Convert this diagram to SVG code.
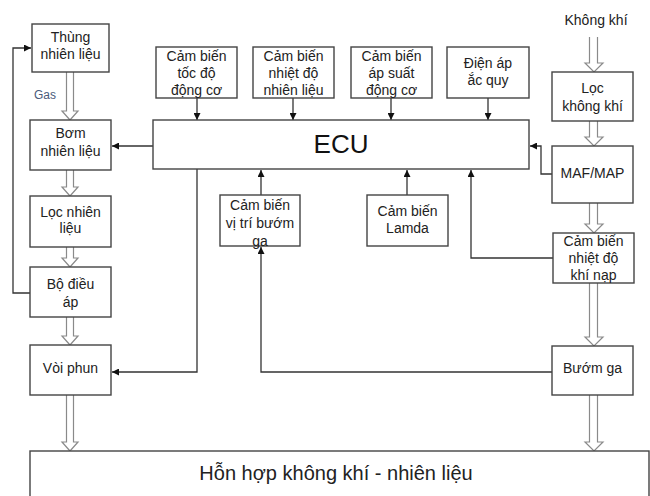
<svg xmlns="http://www.w3.org/2000/svg" width="650" height="496" viewBox="0 0 650 496">
<defs>
<marker id="ah" viewBox="0 0 8 8" refX="8" refY="4" markerWidth="7" markerHeight="7" orient="auto" markerUnits="userSpaceOnUse">
<path d="M0,0 L8,4 L0,8 Z" fill="#111"/>
</marker>
<style>
.box{fill:#fff;stroke:#444;stroke-width:1.4}
.t{font-family:"Liberation Sans",Arial,sans-serif;font-size:14px;fill:#222;text-anchor:middle}
.ln{fill:none;stroke:#333;stroke-width:1.3}
.ha{fill:#fff;stroke:#8a8a8a;stroke-width:1.2}
</style>
</defs>
<rect width="650" height="496" fill="#fff"/>

<g id="connectors">
<polyline class="ln" points="30,293 13,293 13,48 31,48" marker-end="url(#ah)"/>
<line class="ln" x1="153" y1="146" x2="112" y2="146" marker-end="url(#ah)"/>
<line class="ln" x1="197" y1="98" x2="197" y2="120" marker-end="url(#ah)"/>
<line class="ln" x1="293" y1="98" x2="293" y2="120" marker-end="url(#ah)"/>
<line class="ln" x1="391" y1="98" x2="391" y2="120" marker-end="url(#ah)"/>
<line class="ln" x1="488" y1="98" x2="488" y2="120" marker-end="url(#ah)"/>
<polyline class="ln" points="552,174 541,174 541,146 530,146" marker-end="url(#ah)"/>
<polyline class="ln" points="553,258 471,258 471,170" marker-end="url(#ah)"/>
<line class="ln" x1="261" y1="195" x2="261" y2="170" marker-end="url(#ah)"/>
<line class="ln" x1="407" y1="195" x2="407" y2="170" marker-end="url(#ah)"/>
<polyline class="ln" points="552,372 261,372 261,247" marker-end="url(#ah)"/>
<polyline class="ln" points="197,169 197,372 112,372" marker-end="url(#ah)"/>
<!-- hollow flow arrows -->
<path class="ha" d="M66.5,72 V111 H62 L70,120 L78,111 H73.5 V72"/>
<path class="ha" d="M66.5,170 V187 H62 L70,196 L78,187 H73.5 V170"/>
<path class="ha" d="M66.5,247 V258 H62 L70,267 L78,258 H73.5 V247"/>
<path class="ha" d="M66.5,317 V336 H62 L70,345 L78,336 H73.5 V317"/>
<path class="ha" d="M66.5,395 V442 H62 L70,451 L78,442 H73.5 V395"/>
<path class="ha" d="M589.5,37 V63 H585 L594,72 L603,63 H597.5 V37"/>
<path class="ha" d="M589.5,121 V137 H585 L594,146 L603,137 H597.5 V121"/>
<path class="ha" d="M589.5,203 V224 H585 L594,233 L603,224 H597.5 V203"/>
<path class="ha" d="M589.5,283 V337 H585 L594,346 L603,337 H597.5 V283"/>
<path class="ha" d="M589.5,395 V442 H585 L594,451 L603,442 H597.5 V395"/>
</g>

<text x="45" y="99" style="font-family:'Liberation Sans',Arial,sans-serif;font-size:12px;fill:#4a5a7a;text-anchor:middle">Gas</text>
<text x="596" y="25" class="t">Không khí</text>

<g id="thung">
<rect class="box" x="32" y="24" width="77" height="48"/>
<text class="t" x="70.5" y="42">Thùng</text>
<text class="t" x="70.5" y="59">nhiên liệu</text>
</g>
<g id="bom">
<rect class="box" x="30" y="120" width="81" height="50"/>
<text class="t" x="70.5" y="138">Bơm</text>
<text class="t" x="70.5" y="156">nhiên liệu</text>
</g>
<g id="loc-nl">
<rect class="box" x="30" y="196" width="81" height="51"/>
<text class="t" x="70.5" y="217">Lọc nhiên</text>
<text class="t" x="70.5" y="233">liệu</text>
</g>
<g id="bo-dieu-ap">
<rect class="box" x="30" y="267" width="81" height="50"/>
<text class="t" x="70.5" y="289">Bộ điều</text>
<text class="t" x="70.5" y="307">áp</text>
</g>
<g id="voi-phun">
<rect class="box" x="30" y="345" width="81" height="50"/>
<text class="t" x="70.5" y="373">Vòi phun</text>
</g>

<g id="cb-toc-do">
<rect class="box" x="156" y="47" width="81" height="51"/>
<text class="t" x="196.5" y="61">Cảm biến</text>
<text class="t" x="196.5" y="78">tốc độ</text>
<text class="t" x="196.5" y="95">động cơ</text>
</g>
<g id="cb-nhiet-do-nl">
<rect class="box" x="253" y="47" width="81" height="51"/>
<text class="t" x="293.5" y="61">Cảm biến</text>
<text class="t" x="293.5" y="78">nhiệt độ</text>
<text class="t" x="293.5" y="95">nhiên liệu</text>
</g>
<g id="cb-ap-suat">
<rect class="box" x="351" y="47" width="81" height="51"/>
<text class="t" x="391.5" y="61">Cảm biến</text>
<text class="t" x="391.5" y="78">áp suất</text>
<text class="t" x="391.5" y="95">động cơ</text>
</g>
<g id="dien-ap">
<rect class="box" x="447" y="47" width="82" height="51"/>
<text class="t" x="488" y="68">Điện áp</text>
<text class="t" x="488" y="85">ắc quy</text>
</g>

<g id="ecu">
<rect class="box" x="153" y="120" width="376" height="49"/>
<text class="t" x="341" y="153" style="font-size:26px;fill:#111">ECU</text>
</g>

<g id="cb-vi-tri">
<rect class="box" x="220" y="195" width="80" height="51"/>
<text class="t" x="260" y="210">Cảm biến</text>
<text class="t" x="260" y="228">vị trí bướm</text>
<text class="t" x="260" y="246">ga</text>
</g>
<g id="cb-lamda">
<rect class="box" x="367" y="195" width="81" height="51"/>
<text class="t" x="407.5" y="216">Cảm biến</text>
<text class="t" x="407.5" y="233">Lamda</text>
</g>

<g id="loc-kk">
<rect class="box" x="552" y="72" width="81" height="49"/>
<text class="t" x="592.5" y="93">Lọc</text>
<text class="t" x="592.5" y="111">không khí</text>
</g>
<g id="maf-map">
<rect class="box" x="552" y="146" width="81" height="57"/>
<text class="t" x="592.5" y="178">MAF/MAP</text>
</g>
<g id="cb-khi-nap">
<rect class="box" x="553" y="233" width="81" height="50"/>
<text class="t" x="593.5" y="246">Cảm biến</text>
<text class="t" x="593.5" y="263">nhiệt độ</text>
<text class="t" x="593.5" y="280">khí nạp</text>
</g>
<g id="buom-ga">
<rect class="box" x="552" y="346" width="81" height="49"/>
<text class="t" x="592.5" y="373">Bướm ga</text>
</g>

<g id="hon-hop">
<rect class="box" x="30" y="451" width="619" height="60"/>
<text class="t" x="336" y="480" style="font-size:20px">Hỗn hợp không khí - nhiên liệu</text>
</g>
</svg>
